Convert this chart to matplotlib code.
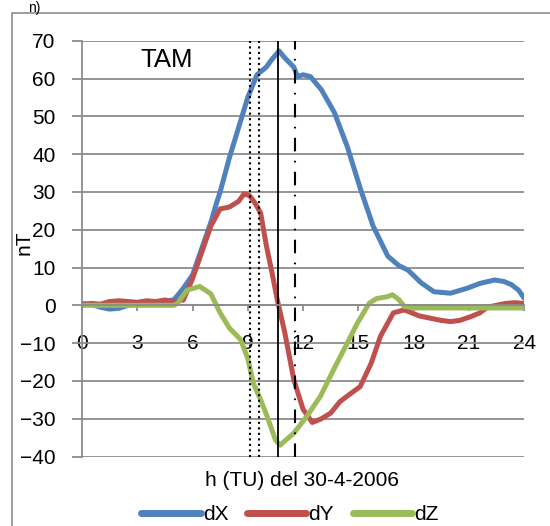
import matplotlib.pyplot as plt
import matplotlib.patches as patches

plt.rcParams['font.family'] = ['Liberation Sans', 'DejaVu Sans']

# dX (nT)
hx = [0, 0.5, 1, 1.5, 2, 2.5, 3, 3.5, 4, 4.5, 5, 5.5, 6, 6.5, 7, 7.3, 7.5, 8, 8.5, 9,
      9.5, 10, 10.3, 10.7, 11, 11.5, 11.7, 12, 12.4, 13, 13.7, 14.4, 15.1, 15.8, 16.6,
      17.2, 17.7, 18.4, 19.1, 20, 20.9, 21.6, 22.4, 22.9, 23.3, 23.7, 24]
dx = [0.5, 0.3, -0.5, -1, -0.8, 0, 0.5, 0.3, 0.6, 1, 1.5, 4.5, 8, 15, 22, 27, 30, 39, 47, 55,
      61, 63, 65, 67.3, 65.5, 63, 60.5, 61, 60.5, 57, 51, 42, 31, 21, 13,
      10.5, 9.3, 6, 3.6, 3.2, 4.5, 5.8, 6.7, 6.3, 5.5, 4, 1.9]

# dY (nT)
hy = [0, 0.5, 1, 1.5, 2, 2.5, 3, 3.5, 4, 4.5, 5, 5.5, 6, 6.5, 7, 7.5, 8, 8.5, 8.8, 9.1,
      9.4, 9.7, 10, 10.3, 10.6, 11, 11.5, 12, 12.5, 13, 13.5, 14, 14.4, 15.1, 15.7, 16.2,
      16.9, 17.5, 17.7, 18.3, 18.9, 19.5, 20, 20.5, 21.1, 21.6, 22, 22.5, 23, 23.5, 24]
dy = [0, 0.5, 0.3, 1, 1.2, 1, 0.8, 1.2, 1, 1.4, 1, 1.4, 7, 14, 21, 25.5, 26, 27.5, 29.5, 29,
      27, 24.4, 16, 9, 1.5, -7, -19.7, -27.5, -31, -30, -28.5, -25.5, -24, -21.5, -15.3, -8.2,
      -2, -1.2, -1.6, -2.8, -3.4, -4, -4.3, -4, -3, -2, -0.5, 0, 0.5, 0.7, 0.5]

# dZ (nT)
hz = [0, 1, 2, 3, 4, 5, 5.2, 5.7, 6.4, 7, 7.5, 8, 8.6, 9, 9.3, 9.7, 10.05, 10.5, 10.75,
      11.5, 12.2, 12.95, 13.66, 14.4, 14.95, 15.6, 16, 16.6, 16.85, 17.2, 17.5, 18, 20, 22, 24]
dz = [0, 0, 0, 0, 0, 0, 0.6, 4, 5, 3, -2, -6, -9, -14, -20.6, -25, -29.4, -35.6, -37,
      -33.8, -29.4, -24, -17, -10, -4.7, 0.6, 1.8, 2.3, 2.8, 1.5, -0.3, -0.7, -0.7, -0.7, -0.7]

events_dot = [9.13, 9.62]
event_solid = 10.65
event_dashdot = 11.58

fig = plt.figure(figsize=(5.5, 5.26), dpi=100)
ax = fig.add_axes([0.149, 0.1321, 0.804, 0.7905])

ax.plot(hx, dx, color='#4F81BD', lw=3.6, label='dX', solid_capstyle='round')
ax.plot(hy, dy, color='#C0504D', lw=3.6, label='dY', solid_capstyle='round')
ax.plot(hz, dz, color='#9BBB59', lw=3.6, label='dZ', solid_capstyle='round')

for e in events_dot:
    ax.axvline(e, color='black', lw=1.5, ls=':')
ax.axvline(event_solid, color='black', lw=1.3)
ax.axvline(event_dashdot, color='black', lw=1.5, ls=(0, (6.5, 4.5, 0.8, 4.5)))

ax.set_xlim(0, 24)
ax.set_ylim(-40, 70)
ax.set_yticks(range(-40, 71, 10))
ax.set_xticks(range(0, 25, 3))
ax.yaxis.grid(True, color='#8c8c8c', lw=1.3)
ax.set_axisbelow(True)

for s in ['top', 'right']:
    ax.spines[s].set_visible(False)
ax.spines['left'].set_color('#8c8c8c')
ax.spines['left'].set_linewidth(1.3)
ax.spines['bottom'].set_position(('data', 0))
ax.spines['bottom'].set_color('#8c8c8c')
ax.spines['bottom'].set_linewidth(1.3)

ax.tick_params(axis='y', length=7, width=1.3, color='#8c8c8c', pad=12, labelsize=15)
ax.tick_params(axis='x', length=4, width=1.3, color='#8c8c8c', pad=17, labelsize=15)

ax.text(4.62, 65, 'TAM', fontsize=18.5, ha='center', va='center')

fig.text(302 / 550, 1 - 480 / 526, 'h (TU) del 30-4-2006', fontsize=15,
         ha='center', va='center')
fig.text(24 / 550, 1 - 243 / 526, 'nT', fontsize=15, rotation=90,
         ha='center', va='center')
fig.text(28 / 550, 1 - 1 / 526, 'n)', fontsize=10, ha='left', va='top')

ax.legend(loc='center', bbox_to_anchor=(290 / 550, 1 - 515 / 526),
          bbox_transform=fig.transFigure, ncol=3, frameon=False, fontsize=15,
          handlelength=2.85, handletextpad=0.1, columnspacing=0.9,
          borderaxespad=0)
for l in ax.get_legend().get_lines():
    l.set_linewidth(5)

fig.add_artist(patches.Rectangle((12 / 550, -0.1), 1.2, 1 - 13 / 526 + 0.1,
                                 transform=fig.transFigure, fill=False,
                                 edgecolor='#8c8c8c', lw=1.2))

fig.savefig('out.png', dpi=100)
